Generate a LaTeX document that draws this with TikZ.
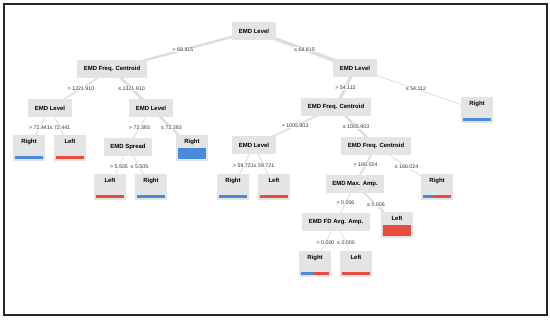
\documentclass[tikz,border=0pt]{standalone}
\usepackage{fontspec}
\setmainfont{Liberation Sans}
\usepackage{tikz}
\usetikzlibrary{calc,backgrounds}
\definecolor{boxgray}{HTML}{E4E4E4}
\definecolor{edgegray}{HTML}{DEDEDE}
\definecolor{rightblue}{HTML}{4A89DC}
\definecolor{leftred}{HTML}{E84C3D}
\begin{document}
\begin{tikzpicture}[x=1bp,y=-1bp,
decision/.style={fill=boxgray,font=\fontsize{6}{7}\selectfont\bfseries,inner xsep=6.5,inner ysep=0,minimum height=18},
leaf/.style 2 args={fill=boxgray,font=\fontsize{6}{7}\selectfont\bfseries,minimum width=33,inner xsep=0,inner ysep=3,text height=5,text depth=15,
 path picture={
 \coordinate (bl) at ([shift={(2,-2)}]path picture bounding box.south west);
 \coordinate (br) at ([shift={(-2,-2)}]path picture bounding box.south east);
 \fill[leftred] (bl) rectangle ($(br)+(0,-#2)$);
 \fill[rightblue] (bl) rectangle ($(bl)!#1!(br)+(0,-#2)$);}},
edge/.style={draw=edgegray},
cond/.style={fill=white,inner sep=0.6,text=black!80,font=\fontsize{5.3}{6}\selectfont}]
\useasboundingbox(0,0)rectangle(550,320);
\draw[line width=1.2,black!85](4,4)rectangle(547,315);
\node[decision](root)at(254,31){EMD Level};
\node[decision](fc1)at(112,69){EMD Freq. Centroid};
\node[decision](lv1)at(355,68){EMD Level};
\node[decision](lv2)at(50,108){EMD Level};
\node[decision](lv3)at(151,108){EMD Level};
\node[decision](fc2)at(336,107){EMD Freq. Centroid};
\node[leaf={1}{2.5}](r1)at(477,110){Right};
\node[leaf={1}{2.5}](r2)at(29,148){Right};
\node[leaf={0}{2.5}](l1)at(70,148){Left};
\node[decision](spread)at(128,147){EMD Spread};
\node[leaf={1}{11}](r3)at(192,148){Right};
\node[decision](lv4)at(254,145){EMD Level};
\node[decision](fc3)at(376,146){EMD Freq. Centroid};
\node[leaf={0}{2.5}](l2)at(110,187){Left};
\node[leaf={1}{2.5}](r4)at(151,187){Right};
\node[leaf={1}{2.5}](r5)at(233,187){Right};
\node[leaf={0}{2.5}](l3)at(274,187){Left};
\node[decision](maxamp)at(355,184){EMD Max. Amp.};
\node[leaf={0.4}{2.5}](r6)at(437,187){Right};
\node[decision](fdamp)at(336,222){EMD FD Avg. Amp.};
\node[leaf={0}{11}](l4)at(397,225){Left};
\node[leaf={0.45}{2.5}](r7)at(315,264){Right};
\node[leaf={0}{2.5}](l5)at(356,264){Left};
\begin{scope}[on background layer]
\draw[edge,line width=2.5](root.center)--node[cond]{> 68.815}(fc1.center);
\draw[edge,line width=3.5](root.center)--node[cond]{≤ 68.815}(lv1.center);
\draw[edge,line width=1.5](fc1.center)--node[cond]{> 1321.910}(lv2.center);
\draw[edge,line width=2.5](fc1.center)--node[cond]{≤ 1321.910}(lv3.center);
\draw[edge,line width=3](lv1.center)--node[cond]{> 54.112}(fc2.center);
\draw[edge,line width=0.8](lv1.center)--node[cond]{≤ 54.112}(r1.center);
\draw[edge,line width=1](lv2.center)--node[cond]{> 72.441}(r2.center);
\draw[edge,line width=1](lv2.center)--node[cond]{≤ 72.441}(l1.center);
\draw[edge,line width=1](lv3.center)--node[cond]{> 72.393}(spread.center);
\draw[edge,line width=2.5](lv3.center)--node[cond]{≤ 72.393}(r3.center);
\draw[edge,line width=0.8](spread.center)--node[cond]{> 5.505}(l2.center);
\draw[edge,line width=0.8](spread.center)--node[cond]{≤ 5.505}(r4.center);
\draw[edge,line width=1.5](fc2.center)--node[cond]{> 1005.903}(lv4.center);
\draw[edge,line width=2.5](fc2.center)--node[cond]{≤ 1005.903}(fc3.center);
\draw[edge,line width=1](lv4.center)--node[cond]{> 59.721}(r5.center);
\draw[edge,line width=1](lv4.center)--node[cond]{≤ 59.721}(l3.center);
\draw[edge,line width=2](fc3.center)--node[cond]{> 166.024}(maxamp.center);
\draw[edge,line width=0.8](fc3.center)--node[cond]{≤ 166.024}(r6.center);
\draw[edge,line width=1](maxamp.center)--node[cond]{> 0.006}(fdamp.center);
\draw[edge,line width=2](maxamp.center)--node[cond]{≤ 0.006}(l4.center);
\draw[edge,line width=0.8](fdamp.center)--node[cond]{> 0.000}(r7.center);
\draw[edge,line width=0.8](fdamp.center)--node[cond]{≤ 0.000}(l5.center);
\end{scope}
\end{tikzpicture}
\end{document}
